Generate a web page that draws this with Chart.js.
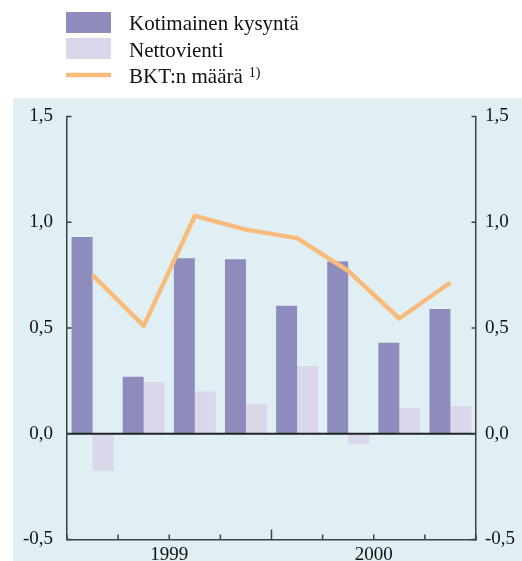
<!DOCTYPE html>
<html>
<head>
<meta charset="utf-8">
<script src="https://cdn.jsdelivr.net/npm/chart.js@4.4.1/dist/chart.umd.min.js"></script>
<style>
html, body { margin: 0; padding: 0; background: #fff; }
#wrap { position: relative; width: 522px; height: 561px; }
</style>
</head>
<body>
<div id="wrap"><canvas id="chart" width="522" height="561"></canvas></div>
<script>
// Data (quarterly change, %)
var quarters = ["1999 I", "1999 II", "1999 III", "1999 IV", "2000 I", "2000 II", "2000 III", "2000 IV"],
    domesticDemand = [0.93, 0.27, 0.83, 0.825, 0.605, 0.815, 0.43, 0.59],
    netExports = [-0.175, 0.245, 0.20, 0.14, 0.32, -0.05, 0.12, 0.13],
    gdpVolume = [0.75, 0.51, 1.03, 0.965, 0.925, 0.77, 0.545, 0.715],
    seriesLabels = ["Kotimainen kysyntä", "Nettovienti", "BKT:n määrä"],
    gdpNote = "1)",
    // tick labels of the quarter boundary axis (0..8), years centred under their quarters
    boundaryLabels = ["", "", "1999", "", "", "", "2000", "", ""],
    yearBoundaries = [4],
    yMin = -0.5,
    yMax = 1.5,
    yStep = 0.5;

var FONT = "'Liberation Serif', 'Times New Roman', serif",
    COLOR_DOMESTIC = "#8e8cbd",
    COLOR_NET = "#dbd7ea",
    COLOR_GDP = "#f9bb7b",
    COLOR_AXIS = "#3a4246",
    COLOR_PANEL = "#e0eff4";

function formatTick(v) {
    return Number(v).toFixed(1).replace(".", ",");
}

// Fixed axis width; the label padding should not push the plot area in vertically
function fitYAxis(width) {
    return function (s) {
        s.width = width;
        s.paddingTop = 0;
        s.paddingBottom = 0;
    };
}

// Light blue panel behind the plot
var panelPlugin = {
    id: "panel",
    beforeDraw: function (chart) {
        var ctx = chart.ctx;
        ctx.save();
        ctx.fillStyle = COLOR_PANEL;
        ctx.fillRect(13, 98, chart.width - 13, chart.height - 98);
        ctx.restore();
    }
};

// Zero line and inward pointing tick marks
var axisPlugin = {
    id: "axisMarks",
    afterDatasetsDraw: function (chart) {
        var ctx = chart.ctx,
            area = chart.chartArea,
            y = chart.scales.y,
            xt = chart.scales.xt,
            y0 = y.getPixelForValue(0);

        ctx.save();
        ctx.strokeStyle = "#1e2326";
        ctx.lineWidth = 2;
        ctx.beginPath();
        ctx.moveTo(area.left, y0);
        ctx.lineTo(area.right, y0);
        ctx.stroke();

        ctx.strokeStyle = COLOR_AXIS;
        ctx.lineWidth = 1.5;
        ctx.beginPath();
        y.ticks.forEach(function (t) {
            var py = y.getPixelForValue(t.value);
            ctx.moveTo(area.left, py);
            ctx.lineTo(area.left + 4.5, py);
            ctx.moveTo(area.right, py);
            ctx.lineTo(area.right - 4.5, py);
        });
        xt.ticks.forEach(function (t) {
            var px = xt.getPixelForValue(t.value),
                len = yearBoundaries.indexOf(t.value) >= 0 ? 10 : 5;
            ctx.moveTo(px, area.bottom);
            ctx.lineTo(px, area.bottom - len);
        });
        ctx.stroke();
        ctx.restore();
    }
};

// Legend in the top left corner
var legendPlugin = {
    id: "topLegend",
    afterDraw: function (chart) {
        var ctx = chart.ctx,
            sets = chart.data.datasets,
            textX = 129,
            w;

        ctx.save();
        ctx.font = "21px " + FONT;
        ctx.textBaseline = "alphabetic";

        ctx.fillStyle = sets[1].backgroundColor;
        ctx.fillRect(66, 12, 45, 21);
        ctx.fillStyle = sets[2].backgroundColor;
        ctx.fillRect(66, 38, 45, 21);
        ctx.strokeStyle = sets[0].borderColor;
        ctx.lineWidth = 4.5;
        ctx.beginPath();
        ctx.moveTo(66, 75);
        ctx.lineTo(111, 75);
        ctx.stroke();

        ctx.fillStyle = "#111";
        ctx.fillText(sets[1].label, textX, 29.5);
        ctx.fillText(sets[2].label, textX, 56.5);
        ctx.fillText(sets[0].label, textX, 83);
        w = ctx.measureText(sets[0].label).width;
        ctx.font = "14px " + FONT;
        ctx.fillText(gdpNote, textX + w + 6, 77);
        ctx.restore();
    }
};

function initChart() {
    var canvas = document.querySelector("#chart"),
        tickFont = { family: FONT, size: 19 },
        config;

    config = {
        data: {
            labels: quarters,
            datasets: [{
                type: "line",
                label: seriesLabels[2],
                data: gdpVolume,
                xAxisID: "x",
                yAxisID: "y",
                order: 0,
                borderColor: COLOR_GDP,
                borderWidth: 4.5,
                borderCapStyle: "butt",
                borderJoinStyle: "round",
                pointRadius: 0,
                tension: 0,
                fill: false
            }, {
                type: "bar",
                label: seriesLabels[0],
                data: domesticDemand,
                xAxisID: "x",
                yAxisID: "y",
                order: 1,
                backgroundColor: COLOR_DOMESTIC,
                categoryPercentage: 0.82,
                barPercentage: 1
            }, {
                type: "bar",
                label: seriesLabels[1],
                data: netExports,
                xAxisID: "x",
                yAxisID: "y",
                order: 2,
                backgroundColor: COLOR_NET,
                categoryPercentage: 0.82,
                barPercentage: 1
            }]
        },
        options: {
            responsive: false,
            animation: false,
            devicePixelRatio: 1,
            layout: { padding: { top: 116.5, left: 0, right: 0, bottom: 0 } },
            plugins: {
                legend: { display: false },
                tooltip: { enabled: false }
            },
            scales: {
                x: {
                    type: "category",
                    display: false,
                    offset: true
                },
                xt: {
                    type: "linear",
                    position: "bottom",
                    min: 0,
                    max: quarters.length,
                    afterFit: function (s) { s.height = 21.5; },
                    border: { display: true, color: COLOR_AXIS, width: 1.5 },
                    grid: { display: false, drawTicks: false },
                    ticks: {
                        stepSize: 1,
                        autoSkip: false,
                        maxRotation: 0,
                        padding: 4.5,
                        color: "#111",
                        font: tickFont,
                        callback: function (v) { return boundaryLabels[v] || ""; }
                    }
                },
                y: {
                    type: "linear",
                    position: "left",
                    min: yMin,
                    max: yMax,
                    afterFit: fitYAxis(67),
                    border: { display: true, color: COLOR_AXIS, width: 1.5 },
                    grid: { display: false, drawTicks: false },
                    ticks: {
                        stepSize: yStep,
                        padding: 14,
                        color: "#111",
                        font: tickFont,
                        callback: formatTick
                    }
                },
                y2: {
                    type: "linear",
                    position: "right",
                    min: yMin,
                    max: yMax,
                    afterFit: fitYAxis(46),
                    border: { display: true, color: COLOR_AXIS, width: 1.5 },
                    grid: { display: false, drawTicks: false },
                    ticks: {
                        stepSize: yStep,
                        padding: 9,
                        color: "#111",
                        font: tickFont,
                        callback: formatTick
                    }
                }
            }
        },
        plugins: [panelPlugin, axisPlugin, legendPlugin]
    };

    return new Chart(canvas, config);
}

initChart();
</script>
</body>
</html>
